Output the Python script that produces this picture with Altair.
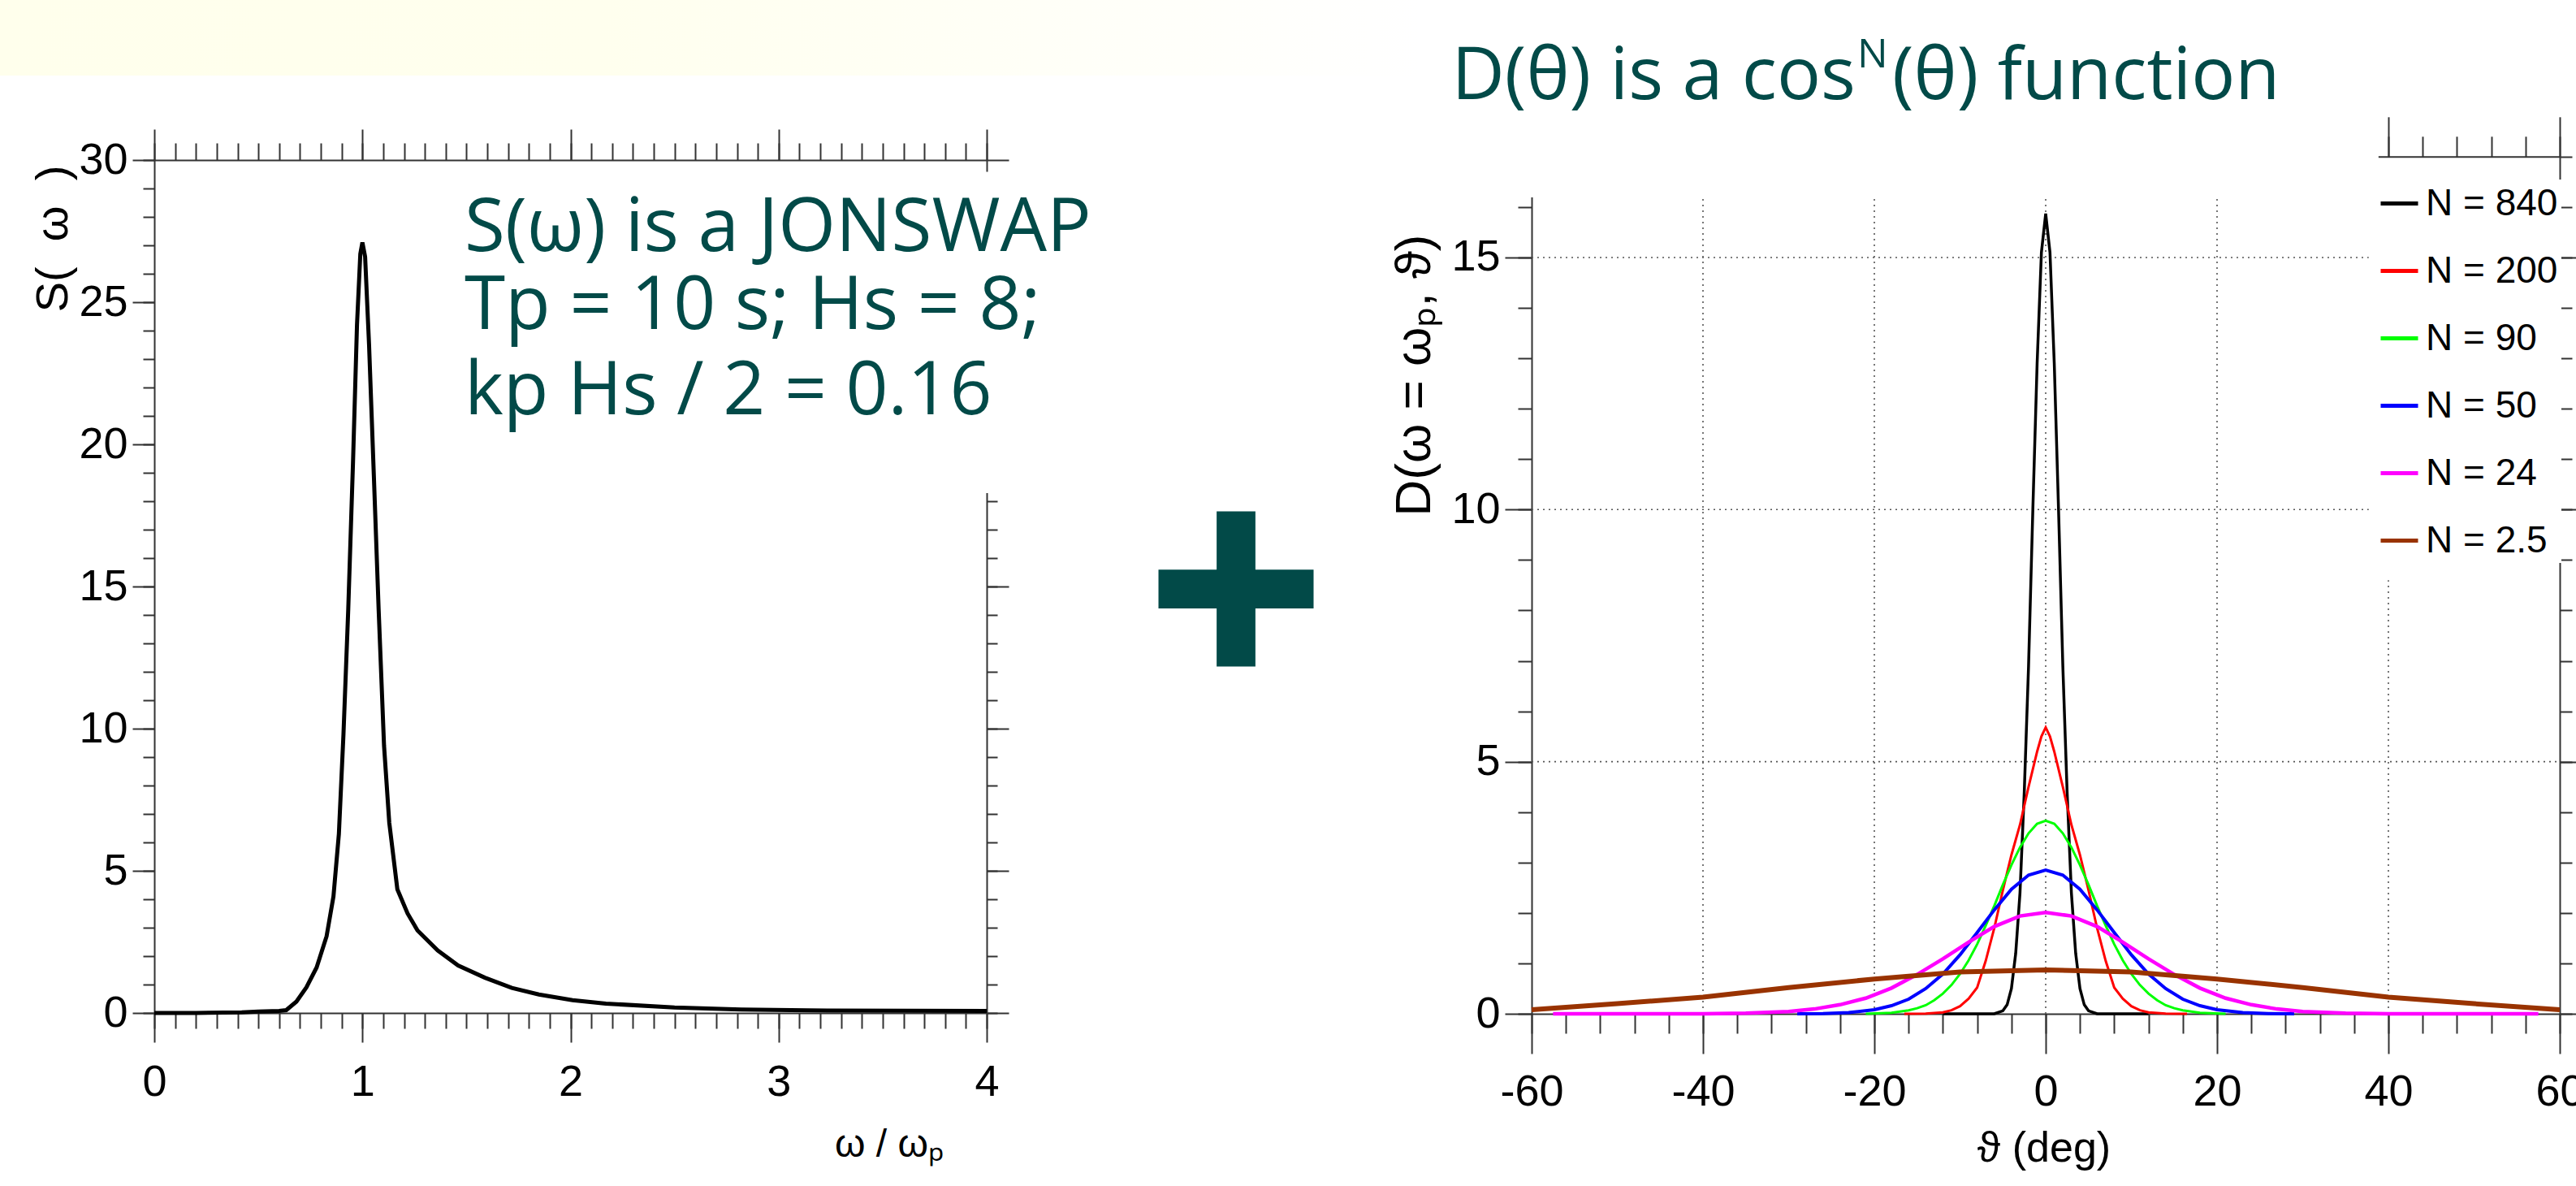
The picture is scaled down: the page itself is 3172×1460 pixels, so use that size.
import altair as alt
import pandas as pd

W, H = 3172, 1460
TEAL = "#024A48"
AXC = "#333333"
SANS = "Liberation Sans, Arial, sans-serif"
CASUAL = "Open Sans, Lato, sans-serif"

# ---------------- data: left panel (JONSWAP spectrum) ----------------
omega_ratio = [0.0, 0.2, 0.42, 0.5, 0.6, 0.634, 0.683, 0.731, 0.78, 0.828, 0.861, 0.887,
               0.909, 0.932, 0.955, 0.974, 0.99, 1.0, 1.013, 1.032, 1.055, 1.078, 1.104,
               1.129, 1.168, 1.217, 1.265, 1.362, 1.46, 1.589, 1.718, 1.848, 2.01, 2.17,
               2.5, 2.82, 3.14, 4.0]
s_omega = [0.0, 0.0, 0.02, 0.05, 0.07, 0.1, 0.4, 0.9, 1.6, 2.7, 4.1, 6.3,
           9.8, 14.2, 19.4, 24.2, 26.7, 27.1, 26.6, 23.5, 18.9, 14.2, 9.4,
           6.7, 4.35, 3.5, 2.9, 2.2, 1.67, 1.24, 0.88, 0.65, 0.45, 0.33,
           0.19, 0.12, 0.09, 0.07]

# ---------------- data: right panel (cos^N spreading) ----------------
n_labels = ["N = 840", "N = 200", "N = 90", "N = 50", "N = 24", "N = 2.5"]
n_colors = ["#000000", "#FF0000", "#00FF00", "#0000FF", "#FF00FF", "#993300"]

theta_840 = [-12, -6, -5, -4.5, -4, -3.5, -3, -2.5, -2, -1.5, -1, -0.5, 0,
             0.5, 1, 1.5, 2, 2.5, 3, 3.5, 4, 4.5, 5, 6, 12]
d_840 = [0, 0, 0.06, 0.18, 0.5, 1.2, 2.4, 4.4, 6.9, 10.0, 12.9, 15.1, 15.87,
         15.1, 12.9, 10.0, 6.9, 4.4, 2.4, 1.2, 0.5, 0.18, 0.06, 0, 0]

theta_200 = [-16.5, -14, -12, -11, -10, -9, -8, -7, -6, -5, -4, -3, -2, -1, -0.5, 0,
             0.5, 1, 2, 3, 4, 5, 6, 7, 8, 9, 10, 11, 12, 14, 16.5]
d_200 = [0, 0.005, 0.03, 0.07, 0.15, 0.3, 0.52, 1.05, 1.7, 2.45, 3.15, 3.75, 4.5, 5.2, 5.5, 5.68,
         5.5, 5.2, 4.5, 3.75, 3.15, 2.45, 1.7, 1.05, 0.52, 0.3, 0.15, 0.07, 0.03, 0.005, 0]

theta_90 = [-21, -18, -16, -15, -14, -13, -12, -11, -10, -9, -8, -7, -6, -5, -4, -3, -2, -1, 0,
            1, 2, 3, 4, 5, 6, 7, 8, 9, 10, 11, 12, 13, 14, 15, 16, 18, 21]
d_90 = [0, 0.02, 0.07, 0.11, 0.17, 0.27, 0.4, 0.57, 0.79, 1.06, 1.38, 1.75, 2.14, 2.56, 2.95, 3.3, 3.58, 3.77, 3.83,
        3.77, 3.58, 3.3, 2.95, 2.56, 2.14, 1.75, 1.38, 1.06, 0.79, 0.57, 0.4, 0.27, 0.17, 0.11, 0.07, 0.02, 0]

theta_50 = [-29, -26, -23, -20, -18, -16, -14, -12, -10, -8, -6, -4, -2, 0,
            2, 4, 6, 8, 10, 12, 14, 16, 18, 20, 23, 26, 29]
d_50 = [0, 0.005, 0.025, 0.08, 0.16, 0.29, 0.5, 0.79, 1.17, 1.61, 2.06, 2.47, 2.75, 2.85,
        2.75, 2.47, 2.06, 1.61, 1.17, 0.79, 0.5, 0.29, 0.16, 0.08, 0.025, 0.005, 0]

theta_24 = [-57.5, -40, -35, -30, -27, -24, -21, -18, -15, -12, -9, -6, -3, 0,
            3, 6, 9, 12, 15, 18, 21, 24, 27, 30, 35, 40, 57.5]
d_24 = [0, 0.002, 0.012, 0.046, 0.095, 0.18, 0.31, 0.51, 0.78, 1.09, 1.42, 1.73, 1.94, 2.01,
        1.94, 1.73, 1.42, 1.09, 0.78, 0.51, 0.31, 0.18, 0.095, 0.046, 0.012, 0.002, 0]

theta_2p5 = [-60, -50, -40, -30, -20, -10, 0, 10, 20, 30, 40, 50, 60]
d_2p5 = [0.08, 0.2, 0.33, 0.52, 0.69, 0.83, 0.87, 0.83, 0.69, 0.52, 0.33, 0.2, 0.08]

curves = [(theta_840, d_840), (theta_200, d_200), (theta_90, d_90),
          (theta_50, d_50), (theta_24, d_24), (theta_2p5, d_2p5)]
curve_widths = [3.5, 3, 3, 4, 4.5, 6]

# grid lines of the right panel (dotted)
grid_v_theta = [-40, -20, 0, 20, 40]
grid_v_top = [16.2, 16.2, 16.2, 16.2, 8.6]
grid_h_d = [5, 10, 15]
grid_h_end = [60, 37.7, 37.7]

# texts
jonswap_lines = ["S(\u03c9) is a JONSWAP", "Tp = 10 s; Hs = 8;", "kp Hs / 2 = 0.16"]
title_parts = ["D(\u03b8) is a cos", "N", "(\u03b8) function"]
axis_titles = {
    "left_y": "S(\u00a0\u00a0\u03c9\u00a0\u00a0)",
    "left_x": "\u03c9 / \u03c9\u209a",
    "right_y": "D(\u03c9 = \u03c9\u209a, \u03d1)",
    "right_x": "\u03d1 (deg)",
}

# ---------------- layout (pixels) ----------------
L_X = (190, 1215)          # omega/omega_p 0 .. 4
L_Y0, L_PPU = 1247, 35.0   # S = 0 at y=1247, 35 px per unit
R_X = (1886, 3152)         # theta -60 .. 60
R_Y0, R_PPU = 1248, 62.07  # D = 0 at y=1248
R_PPD = (R_X[1] - R_X[0]) / 120.0
TICK_FS = 54
jonswap_pos = (572, [309, 405, 510])


def sc(domain, rng):
    return alt.Scale(domain=domain, range=rng, nice=False, zero=False)


def ax(orient, offset, values, size, labels=False, domain=True, **kw):
    base = dict(orient=orient, offset=offset, values=values, tickSize=size, labels=labels,
                domain=domain, grid=False, ticks=True, tickColor=AXC, tickWidth=2,
                domainColor=AXC, domainWidth=2, labelFont=SANS, labelFontSize=TICK_FS,
                labelColor="black", labelFlush=False, labelOverlap=False, title=None)
    base.update(kw)
    return alt.Axis(**base)


def text_layer(t, x, y, font, size, color="black", align="center", baseline="middle", angle=0):
    return alt.Chart(pd.DataFrame({"t": [t]})).mark_text(
        font=font, fontSize=size, color=color, align=align, baseline=baseline, angle=angle
    ).encode(text="t:N", x=alt.value(x), y=alt.value(y))


sxL = sc([0, 4], list(L_X))
syL = sc([0, 30], [L_Y0, L_Y0 - 30 * L_PPU])
syL_right = sc([0, 18.3], [L_Y0, L_Y0 - 18.3 * L_PPU])
syL_30 = sc([29.6, 30], [L_Y0 - 29.6 * L_PPU, L_Y0 - 30 * L_PPU])

sxR = sc([-60, 60], list(R_X))
syR = sc([0, 17], [R_Y0, R_Y0 - 17 * R_PPU])
syR_left = sc([0, 16.2], [R_Y0, R_Y0 - 16.2 * R_PPU])
sxR_top = sc([38.8, 60], [R_X[0] + 98.8 * R_PPD, R_X[1]])

off_L_left = -L_X[0]
off_L_bottom = L_Y0 - H
off_L_top = -(L_Y0 - 30 * L_PPU)
off_L_right = L_X[1] - W
off_R_left = -R_X[0]
off_R_bottom = R_Y0 - H
off_R_top = -(R_Y0 - 17 * R_PPU)
off_R_right = R_X[1] - W

df_left = pd.DataFrame({"w": omega_ratio, "S": s_omega})

layers = []

# background band of the slide
band = alt.Chart(pd.DataFrame({"k": [0]})).mark_rect(
    color=alt.Gradient(gradient="linear",
                       stops=[alt.GradientStop(offset=0, color="#FFFFEC"),
                              alt.GradientStop(offset=0.42, color="#FFFFEE"),
                              alt.GradientStop(offset=1, color="#FFFFFF")],
                       x1=0, x2=1, y1=0, y2=0)
).encode(x=alt.value(0), x2=alt.value(1750), y=alt.value(0), y2=alt.value(93))
layers.append(band)

# ---------------- left panel ----------------
int_ticks = [0, 1, 2, 3, 4]
tenth_ticks = [round(i * 0.1, 1) for i in range(41)]
unit_ticks_30 = list(range(0, 31))

layers.append(alt.Chart(df_left).mark_line(color="black", strokeWidth=5).encode(
    x=alt.X("w:Q", scale=sxL,
            axis=ax("bottom", off_L_bottom, int_ticks, 36, labels=True, labelPadding=22)),
    y=alt.Y("S:Q", scale=syL,
            axis=ax("left", off_L_left, [0, 5, 10, 15, 20, 25, 30], 27, labels=True,
                    labelPadding=6)),
))
layers.append(alt.Chart(df_left).mark_line(opacity=0).encode(
    x=alt.X("w:Q", scale=sxL, axis=ax("bottom", off_L_bottom, tenth_ticks, 19, domain=False)),
    y=alt.Y("S:Q", scale=syL, axis=ax("left", off_L_left, unit_ticks_30, 14, domain=False)),
))
layers.append(alt.Chart(df_left).mark_line(opacity=0).encode(
    x=alt.X("w:Q", scale=sxL, axis=ax("top", off_L_top, int_ticks, 38)),
    y=alt.Y("S:Q", scale=syL_right, axis=ax("right", off_L_right, [0, 5, 10, 15], 27)),
))
layers.append(alt.Chart(df_left).mark_line(opacity=0).encode(
    x=alt.X("w:Q", scale=sxL, axis=ax("top", off_L_top, tenth_ticks, 21, domain=False)),
    y=alt.Y("S:Q", scale=syL_right,
            axis=ax("right", off_L_right, list(range(0, 19)), 13, domain=False)),
))
layers.append(alt.Chart(df_left).mark_line(opacity=0).encode(
    x=alt.X("w:Q", scale=sxL, axis=None),
    y=alt.Y("S:Q", scale=syL_30, axis=ax("right", off_L_right, [30], 27)),
))

layers.append(text_layer(axis_titles["left_y"], 66, 294, SANS, 56, angle=270))
layers.append(text_layer(axis_titles["left_x"], 1095, 1410, SANS, 48))

for t, yb in zip(jonswap_lines, jonswap_pos[1]):
    layers.append(text_layer(t, jonswap_pos[0], yb, CASUAL, 91, color=TEAL,
                             align="left", baseline="alphabetic"))

# plus sign between the panels
layers.append(
    alt.Chart(pd.DataFrame({"k": [0]})).mark_point(
        shape="M-1,-0.25H-0.25V-1H0.25V-0.25H1V0.25H0.25V1H-0.25V0.25H-1Z",
        size=191 * 191, filled=True, color=TEAL, opacity=1, strokeWidth=0
    ).encode(x=alt.value(1522), y=alt.value(725))
)

# ---------------- right panel ----------------
df_gv = pd.DataFrame({"t": grid_v_theta, "top": grid_v_top, "b": [0] * len(grid_v_theta)})
df_gh = pd.DataFrame({"d": grid_h_d, "x0": [-60] * len(grid_h_d), "x1": grid_h_end})

layers.append(
    alt.Chart(df_gv).mark_rule(color="#555555", strokeWidth=1.6, strokeDash=[2, 5]).encode(
        x=alt.X("t:Q", scale=sxR, axis=None),
        y=alt.Y("b:Q", scale=syR, axis=None), y2="top:Q")
)
layers.append(
    alt.Chart(df_gh).mark_rule(color="#555555", strokeWidth=1.6, strokeDash=[2, 5]).encode(
        x=alt.X("x0:Q", scale=sxR, axis=None), x2="x1:Q",
        y=alt.Y("d:Q", scale=syR, axis=None))
)

legend = alt.Legend(orient="none", legendX=2925, legendY=221, title=None,
                    symbolType="stroke", symbolSize=2116, symbolStrokeWidth=5,
                    labelFont=SANS, labelFontSize=46, labelColor="black", labelOffset=7,
                    labelLimit=400, padding=4, rowPadding=34, fillColor="white")
color_scale = alt.Scale(domain=n_labels, range=n_colors)

for k, ((th, dv), lab, sw) in enumerate(zip(curves, n_labels, curve_widths)):
    dfc = pd.DataFrame({"theta": th, "D": dv, "N": [lab] * len(th)})
    if k == 0:
        xax = ax("bottom", off_R_bottom, list(range(-60, 61, 20)), 49, labels=True,
                 labelPadding=20, labelExpr="'' + datum.value")
        yax = ax("left", off_R_left, [0, 5, 10, 15], 33, labels=True, labelPadding=6)
    else:
        xax, yax = None, None
    layers.append(
        alt.Chart(dfc).mark_line(strokeWidth=sw).encode(
            x=alt.X("theta:Q", scale=sxR, axis=xax),
            y=alt.Y("D:Q", scale=syR_left, axis=yax),
            color=alt.Color("N:N", scale=color_scale, legend=legend),
        )
    )

df_rax = pd.DataFrame({"theta": theta_2p5, "D": d_2p5})
layers.append(
    alt.Chart(df_rax).mark_line(opacity=0).encode(
        x=alt.X("theta:Q", scale=sxR, axis=ax("bottom", off_R_bottom, list(range(-60, 61, 4)), 24, domain=False)),
        y=alt.Y("D:Q", scale=syR_left, axis=ax("left", off_R_left, list(range(0, 17)), 17, domain=False)),
    )
)
layers.append(
    alt.Chart(df_rax).mark_line(opacity=0).encode(
        x=alt.X("theta:Q", scale=sxR_top, axis=ax("top", off_R_top, [40, 60], 49)),
        y=alt.Y("D:Q", scale=syR, axis=ax("right", off_R_right, [0, 5, 10, 15], 30)),
    )
)
layers.append(
    alt.Chart(df_rax).mark_line(opacity=0).encode(
        x=alt.X("theta:Q", scale=sxR_top, axis=ax("top", off_R_top, [40, 44, 48, 52, 56, 60], 25, domain=False)),
        y=alt.Y("D:Q", scale=syR, axis=ax("right", off_R_right, list(range(0, 18)), 15, domain=False)),
    )
)

layers.append(text_layer(axis_titles["right_y"], 1742, 462, SANS, 62, angle=270))
layers.append(text_layer(axis_titles["right_x"], 2517, 1414, SANS, 52))

# title of the right panel: D(θ) is a cos^N(θ) function
layers.append(text_layer(title_parts[0], 2285, 122, CASUAL, 90, color=TEAL,
                         align="right", baseline="alphabetic"))
layers.append(text_layer(title_parts[1], 2287, 83, CASUAL, 50, color=TEAL,
                         align="left", baseline="alphabetic"))
layers.append(text_layer(title_parts[2], 2330, 122, CASUAL, 90, color=TEAL,
                         align="left", baseline="alphabetic"))

chart = alt.layer(*layers).resolve_scale(
    x="independent", y="independent", color="shared"
).properties(
    width=W, height=H, padding=0, autosize=alt.AutoSizeParams(type="none"),
    background="white"
).configure_view(stroke=None)

chart.save("out.html", embed_options={"renderer": "svg", "actions": False})
